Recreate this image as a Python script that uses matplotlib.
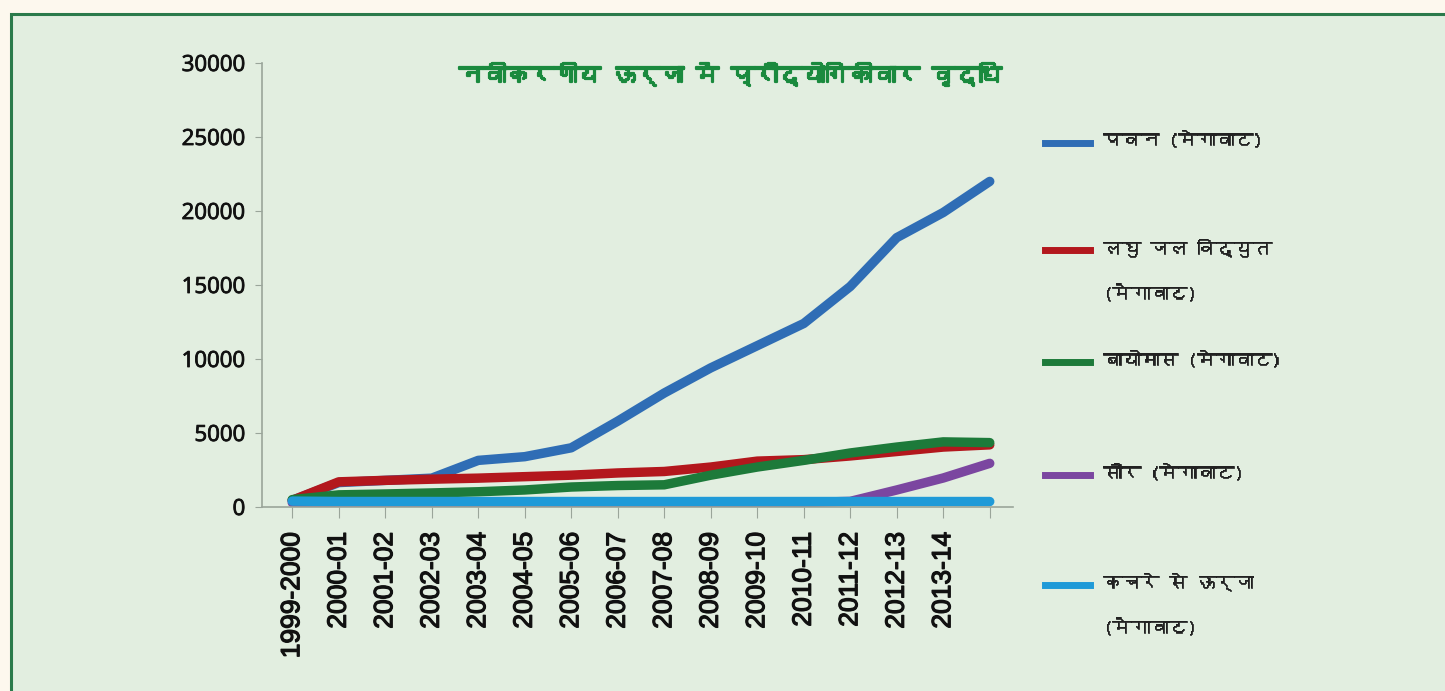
import matplotlib
matplotlib.use("Agg")
import matplotlib.pyplot as plt
import matplotlib.patheffects as pe
from matplotlib import font_manager, ft2font
from matplotlib.lines import Line2D
from matplotlib.patches import Rectangle

years = ["1999-2000", "2000-01", "2001-02", "2002-03", "2003-04", "2004-05",
         "2005-06", "2006-07", "2007-08", "2008-09", "2009-10", "2010-11",
         "2011-12", "2012-13", "2013-14", ""]

wind = [450, 1650, 1800, 1950, 3150, 3400, 4000, 5800, 7700, 9400,
        10900, 12400, 14900, 18200, 19900, 22000]
small_hydro = [450, 1700, 1800, 1880, 1950, 2050, 2150, 2300, 2400, 2700,
               3100, 3200, 3450, 3750, 4050, 4200]
biomass = [500, 820, 880, 950, 1030, 1150, 1350, 1450, 1500, 2150,
           2700, 3150, 3650, 4050, 4400, 4350]
solar = [300, 300, 300, 300, 300, 300, 300, 300, 300, 300,
         300, 300, 380, 1150, 1960, 2950]
waste = [400, 370, 370, 370, 370, 370, 370, 370, 370, 370,
         370, 370, 370, 370, 370, 370]

labels = ["पवन (मेगावाट)", "लघु जल विद्युत\n(मेगावाट)", "बायोमास (मेगावाट)",
          "सौर (मेगावाट)", "कचरे से ऊर्जा\n(मेगावाट)"]
colors = ["#2f6db5", "#b3171d", "#1d7a3a", "#7b46a0", "#1f9ad8"]
title = "नवीकरणीय ऊर्जा में प्रौद्योगिकीवार वृद्धि"


def devanagari_family():
    # first installed font that has Devanagari glyphs
    for f in font_manager.fontManager.ttflist:
        try:
            if 0x0928 in ft2font.FT2Font(f.fname).get_charmap():
                return f.name
        except Exception:
            pass
    return "DejaVu Sans"


hindi = [devanagari_family(), "DejaVu Sans"]

W, H = 1445, 691
fig = plt.figure(figsize=(W / 100, H / 100), dpi=100)
fig.patch.set_facecolor("#fdf8ee")

# green framed panel
fig.add_artist(Rectangle((11 / W, -0.01), 1.02, (H - 14) / H + 0.01,
                         transform=fig.transFigure, facecolor="#e2eee0",
                         edgecolor="#2b7a4b", linewidth=2.2, zorder=0))

ax = fig.add_axes([262 / W, 184 / H, 751 / W, 444 / H])
ax.set_facecolor("none")

x = list(range(len(years)))
for series, c in zip([wind, small_hydro, biomass, solar, waste], colors):
    ax.plot(x, series, color=c, linewidth=6.8, solid_capstyle="round",
            solid_joinstyle="round")

ax.set_ylim(0, 30000)
ax.set_yticks(range(0, 30001, 5000))
ax.set_xlim(-0.65, 15.5)
ax.set_xticks(x)
ax.set_xticklabels(years, rotation=90, fontsize=19,
                   family=["Liberation Sans Narrow", "Liberation Sans"])
for lab in ax.get_xticklabels():
    lab.set_path_effects([pe.withStroke(linewidth=0.9, foreground="#111111")])
for lab in ax.get_yticklabels():
    lab.set_family("Open Sans")
    lab.set_fontsize(16)
    lab.set_path_effects([pe.withStroke(linewidth=0.6, foreground="#111111")])

for side in ["top", "right"]:
    ax.spines[side].set_visible(False)
for side in ["left", "bottom"]:
    ax.spines[side].set_color("#9aa59a")
    ax.spines[side].set_linewidth(1.2)
ax.tick_params(axis="both", colors="#9aa59a", labelcolor="#111111",
               direction="out")
ax.tick_params(axis="y", length=5, pad=7)
ax.tick_params(axis="x", length=8, pad=10)

fig.text(731 / W, 1 - 75 / H, title, family=hindi, fontsize=17,
         fontweight="bold", color="#1a8a3e", ha="center", va="center",
         path_effects=[pe.withStroke(linewidth=1.6, foreground="#1a8a3e")])

# legend on the right
legend_y = [143, 250, 362, 475, 585]
for lab, c, yy in zip(labels, colors, legend_y):
    yf = 1 - yy / H
    fig.add_artist(Line2D([1045 / W, 1090 / W], [yf, yf], color=c,
                          linewidth=5, transform=fig.transFigure))
    fig.text(1103 / W, yf + 12 / H, lab, family=hindi, fontsize=13.5,
             color="#222222", ha="left", va="top", linespacing=2.8,
             path_effects=[pe.withStroke(linewidth=0.5, foreground="#222222")])

fig.savefig("out.png", dpi=100, facecolor=fig.get_facecolor())
